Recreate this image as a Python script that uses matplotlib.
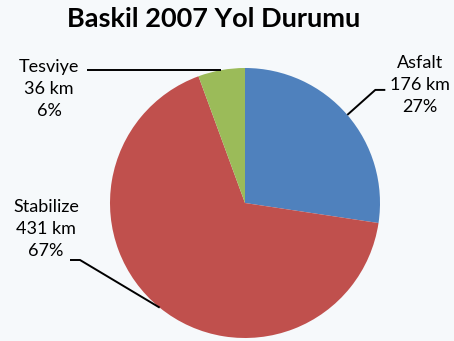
import numpy as np
import matplotlib
matplotlib.use("Agg")
import matplotlib.pyplot as plt

# Road surface lengths in Baskil, 2007
categories = ["Asfalt", "Stabilize", "Tesviye"]
lengths_km = [176, 431, 36]
percents = [27, 67, 6]
colors = ["#4F81BD", "#C0504D", "#9BBB59"]

W, H = 454, 341
BG = "#F6F9FB"
plt.rcParams["font.family"] = ["Lato", "DejaVu Sans"]

fig = plt.figure(figsize=(W / 100, H / 100), dpi=100, facecolor=BG)
ax = fig.add_axes([0, 0, 1, 1])
ax.set_facecolor(BG)

cx, cy, r = 245, H - 203, 135
wedges, _ = ax.pie(lengths_km, colors=colors, startangle=90, counterclock=False,
                   center=(cx, cy), radius=r, frame=True,
                   wedgeprops=dict(linewidth=0))
ax.set_xlim(0, W)
ax.set_ylim(0, H)
ax.set_aspect("equal")
ax.axis("off")

ax.text(214, H - 19, "Baskil 2007 Yol Durumu", ha="center", va="center",
        fontsize=19.5, fontweight="bold", color="#000000")


def edge_point(w):
    mid = np.deg2rad((w.theta1 + w.theta2) / 2)
    return cx + r * np.cos(mid), cy + r * np.sin(mid)


label_pos = {"Asfalt": (420, H - 85), "Stabilize": (46, H - 229), "Tesviye": (49, H - 89)}
txt_kw = dict(ha="center", va="center", fontsize=13, linespacing=1.45, color="#000000")

for w, name, km, pct in zip(wedges, categories, lengths_km, percents):
    lx, ly = label_pos[name]
    ax.text(lx, ly, f"{name}\n{km} km\n{pct}%", **txt_kw)
    ex, ey = edge_point(w)
    if name == "Asfalt":
        xs, ys = [ex, ex + 28, ex + 38], [ey, ey + 25, ey + 25]
    elif name == "Stabilize":
        xs, ys = [ex, 80, 70], [ey, H - 260, H - 260]
    else:
        xs, ys = [ex, 87], [ey, ey]
    ax.plot(xs, ys, color="#000000", lw=1.4, solid_capstyle="butt")

fig.savefig("out.png", dpi=100, facecolor=BG)
